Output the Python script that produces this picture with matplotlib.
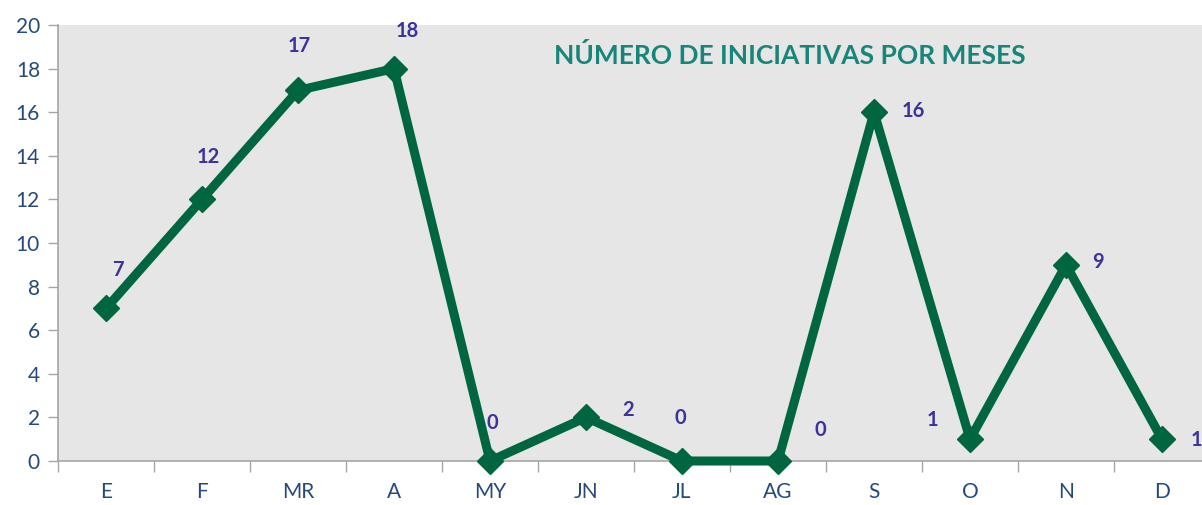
import matplotlib
matplotlib.use('Agg')
import matplotlib.pyplot as plt

# months and number of initiatives
months = ['E', 'F', 'MR', 'A', 'MY', 'JN', 'JL', 'AG', 'S', 'O', 'N', 'D']
counts = [7, 12, 17, 18, 0, 2, 0, 0, 16, 1, 9, 1]
# where each data label sits relative to its marker (pixels)
label_offsets = [(12, 38), (6, 42), (1, 44), (13, 38), (2, 38), (42, 7),
                 (-2, 43), (42, 31), (39, 1), (-38, 19), (32, 3), (34, -1)]

plt.rcParams['font.family'] = ['Lato', 'DejaVu Sans']

fig = plt.figure(figsize=(12.02, 5.05), dpi=100)
# plot area runs a little past the right edge, like the original
ax = fig.add_axes([58 / 1202, 1 - 461 / 505, (1210 - 58) / 1202, (461 - 25) / 505])
ax.set_facecolor('#e6e6e6')

x = list(range(len(months)))
ax.plot(x, counts, color='#006640', linewidth=6.5, marker='D', markersize=13,
        clip_on=False, zorder=3)

for xi, v, (dx, dy) in zip(x, counts, label_offsets):
    ax.annotate(str(v), (xi, v), xytext=(dx, dy), textcoords='offset pixels',
                ha='center', va='center', fontsize=14.5, fontweight='bold',
                color='#3b329b', annotation_clip=False, zorder=4)

ax.set_xlim(-0.5, len(months) - 0.5)
ax.set_ylim(0, 20)
ax.set_yticks(range(0, 21, 2))
ax.set_xticks(x)
ax.set_xticklabels(months)
ax.set_xticks([i - 0.5 for i in range(len(months) + 1)], minor=True)
ax.tick_params(axis='x', which='major', length=0, pad=15, labelsize=15, labelcolor='#244a7c')
ax.tick_params(axis='x', which='minor', length=8, width=1, color='#a6a6a6', direction='out')
ax.tick_params(axis='y', length=7, width=1, color='#a6a6a6', pad=6, labelsize=15, labelcolor='#244a7c')

for side in ['top', 'right']:
    ax.spines[side].set_visible(False)
for side in ['left', 'bottom']:
    ax.spines[side].set_color('#a6a6a6')
    ax.spines[side].set_linewidth(1.2)

ax.text(0.635, 0.931, 'NÚMERO DE INICIATIVAS POR MESES', transform=ax.transAxes,
        ha='center', va='center', fontsize=19, fontweight='bold', color='#16867a')

fig.savefig('out.png', dpi=100)
